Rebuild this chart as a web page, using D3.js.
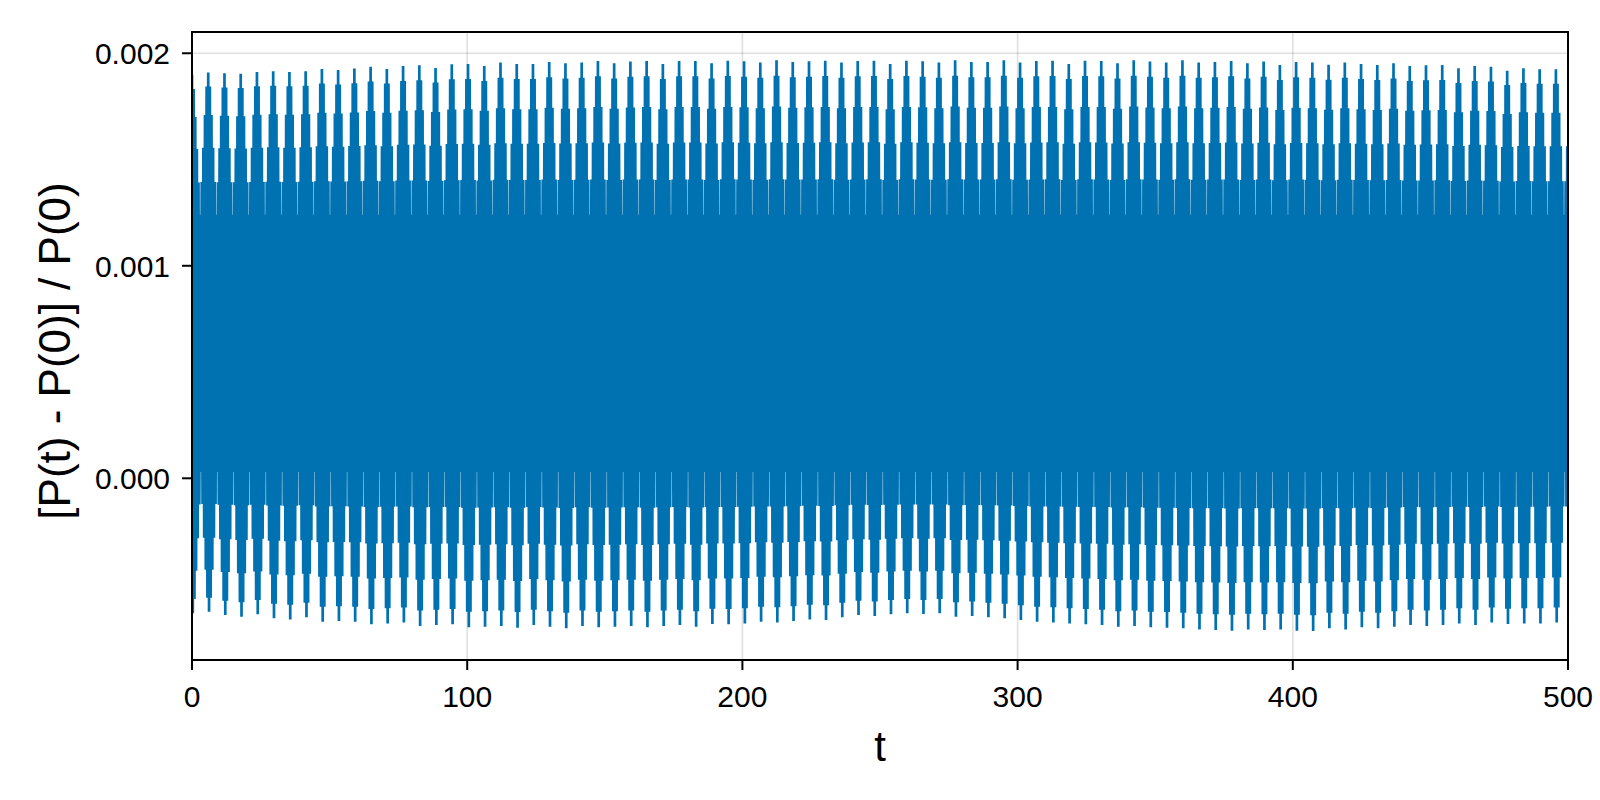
<!DOCTYPE html>
<html>
<head>
<meta charset="utf-8">
<script src="https://cdn.jsdelivr.net/npm/d3@7"></script>
<style>
  html, body { margin: 0; padding: 0; background: #ffffff; }
  svg { display: block; font-family: "Liberation Sans", Arial, Helvetica, sans-serif; }
</style>
</head>
<body>
<svg id="chart" width="1600" height="800"></svg>
<script>
// ---- data ----
// times (t) of the slow-modulation maxima
const peakTimes = [0, 5.9, 11.8, 17.7, 23.6, 29.5, 35.4, 41.3, 47.2, 53.1,
  59.0, 64.9, 70.8, 76.7, 82.6, 88.5, 94.4, 100.3, 106.2, 112.1,
  118.0, 123.9, 129.8, 135.7, 141.6, 147.5, 153.4, 159.3, 165.2, 171.1,
  177.0, 182.9, 188.8, 194.7, 200.6, 206.5, 212.4, 218.3, 224.2, 230.1,
  236.0, 241.9, 247.8, 253.7, 259.6, 265.5, 271.4, 277.3, 283.2, 289.1,
  295.0, 300.9, 306.8, 312.7, 318.6, 324.5, 330.4, 336.3, 342.2, 348.1,
  354.0, 359.9, 365.8, 371.7, 377.6, 383.5, 389.4, 395.3, 401.2, 407.1,
  413.0, 418.9, 424.8, 430.7, 436.6, 442.5, 448.4, 454.3, 460.2, 466.1,
  472.0, 477.9, 483.8, 489.7, 495.6];

// highest value reached in each slow cycle
const upperPeaks = [0.001898, 0.001910, 0.001906, 0.001903, 0.001912, 0.001915, 0.001912, 0.001915, 0.001926, 0.001921,
  0.001928, 0.001937, 0.001926, 0.001940, 0.001943, 0.001931, 0.001948, 0.001950, 0.001940, 0.001956,
  0.001950, 0.001950, 0.001959, 0.001953, 0.001956, 0.001964, 0.001953, 0.001961, 0.001964, 0.001950,
  0.001964, 0.001964, 0.001953, 0.001965, 0.001962, 0.001956, 0.001967, 0.001959, 0.001962, 0.001965,
  0.001956, 0.001964, 0.001965, 0.001950, 0.001965, 0.001962, 0.001956, 0.001967, 0.001959, 0.001959,
  0.001967, 0.001956, 0.001964, 0.001965, 0.001950, 0.001965, 0.001964, 0.001953, 0.001967, 0.001961,
  0.001956, 0.001967, 0.001956, 0.001959, 0.001964, 0.001953, 0.001961, 0.001945, 0.001959, 0.001956,
  0.001946, 0.001956, 0.001950, 0.001945, 0.001953, 0.001940, 0.001943, 0.001945, 0.001929, 0.001940,
  0.001937, 0.001918, 0.001929, 0.001925, 0.001925];

// lowest value reached in each slow cycle
const lowerPeaks = [-0.000635, -0.000628, -0.000643, -0.000651, -0.000640, -0.000659, -0.000664, -0.000654, -0.000675, -0.000672,
  -0.000675, -0.000687, -0.000683, -0.000679, -0.000695, -0.000690, -0.000687, -0.000701, -0.000698, -0.000695,
  -0.000703, -0.000690, -0.000698, -0.000706, -0.000695, -0.000701, -0.000698, -0.000695, -0.000701, -0.000695,
  -0.000690, -0.000698, -0.000686, -0.000687, -0.000683, -0.000675, -0.000678, -0.000672, -0.000664, -0.000667,
  -0.000654, -0.000643, -0.000648, -0.000640, -0.000635, -0.000639, -0.000635, -0.000651, -0.000648, -0.000654,
  -0.000659, -0.000667, -0.000675, -0.000678, -0.000683, -0.000687, -0.000690, -0.000698, -0.000695, -0.000701,
  -0.000703, -0.000706, -0.000711, -0.000714, -0.000717, -0.000711, -0.000714, -0.000711, -0.000717, -0.000719,
  -0.000706, -0.000711, -0.000701, -0.000706, -0.000698, -0.000690, -0.000695, -0.000690, -0.000683, -0.000690,
  -0.000679, -0.000686, -0.000683, -0.000683, -0.000679];

// levels of the fast swing at the slow-modulation minima (thin white spikes)
const upperTrough = 0.00124;
const lowerTrough = 0.00003;

// fraction of the swing reached by each fast oscillation inside one slow cycle
const stepShape = [1.00, 0.90, 0.70, 0.47, 0.23, 0.00, 0.23, 0.47, 0.70, 0.90];

const tEnd = 500;
const xTicks = [0, 100, 200, 300, 400, 500];
const xTickLabels = ["0", "100", "200", "300", "400", "500"];
const yTicks = [0.000, 0.001, 0.002];
const yTickLabels = ["0.000", "0.001", "0.002"];
const xLabel = "t";
const yLabel = "[P(t) - P(0)] / P(0)";

// ---- build the line's points from the read values ----
const series = [];
const n = peakTimes.length;
for (let k = 0; k < n; k++) {
  const t0 = peakTimes[k];
  const t1 = k + 1 < n ? peakTimes[k + 1] : t0 + (t0 - peakTimes[k - 1]);
  const dt = (t1 - t0) / stepShape.length;
  stepShape.forEach((f, j) => {
    const kk = (j >= stepShape.length / 2 && k + 1 < n) ? k + 1 : k;
    const hi = upperTrough + (upperPeaks[kk] - upperTrough) * f;
    const lo = lowerTrough + (lowerPeaks[kk] - lowerTrough) * f;
    const ta = t0 + j * dt, tb = ta + dt / 2;
    if (ta <= tEnd) series.push({ t: ta, v: hi });
    if (tb <= tEnd) series.push({ t: tb, v: lo });
  });
}

// ---- drawing ----
const W = 1600, H = 800;
const plot = { left: 192, right: 1568, top: 32, bottom: 660 };
const svg = d3.select("#chart");
svg.append("rect").attr("width", W).attr("height", H).attr("fill", "#ffffff");

const x = d3.scaleLinear().domain([0, 500]).range([plot.left, plot.right]);
const y = d3.scaleLinear().domain([-0.000855, 0.0021]).range([plot.bottom, plot.top]);

svg.append("defs").append("clipPath").attr("id", "clip")
  .append("rect")
  .attr("x", plot.left).attr("y", plot.top)
  .attr("width", plot.right - plot.left).attr("height", plot.bottom - plot.top);

// grid
const grid = svg.append("g").attr("stroke", "#000").attr("stroke-opacity", 0.12).attr("stroke-width", 1.6);
grid.selectAll("line.gx").data(xTicks).join("line")
  .attr("x1", d => x(d)).attr("x2", d => x(d))
  .attr("y1", plot.top).attr("y2", plot.bottom);
grid.selectAll("line.gy").data(yTicks).join("line")
  .attr("x1", plot.left).attr("x2", plot.right)
  .attr("y1", d => y(d)).attr("y2", d => y(d));

// data line
const line = d3.line().x(d => x(d.t)).y(d => y(d.v));
svg.append("g").attr("clip-path", "url(#clip)")
  .append("path")
  .datum(series)
  .attr("d", line)
  .attr("fill", "none")
  .attr("stroke", "#0072B2")
  .attr("stroke-width", 2.7)
  .attr("stroke-linejoin", "bevel");

// spines
svg.append("rect")
  .attr("x", plot.left).attr("y", plot.top)
  .attr("width", plot.right - plot.left).attr("height", plot.bottom - plot.top)
  .attr("fill", "none").attr("stroke", "#000").attr("stroke-width", 2);

// ticks
const tickLen = 10;
const ticks = svg.append("g").attr("stroke", "#000").attr("stroke-width", 2);
ticks.selectAll("line.tx").data(xTicks).join("line")
  .attr("x1", d => x(d)).attr("x2", d => x(d))
  .attr("y1", plot.bottom).attr("y2", plot.bottom + tickLen);
ticks.selectAll("line.ty").data(yTicks).join("line")
  .attr("x1", plot.left - tickLen).attr("x2", plot.left)
  .attr("y1", d => y(d)).attr("y2", d => y(d));

// tick labels
svg.append("g").selectAll("text").data(xTicks).join("text")
  .attr("x", d => x(d)).attr("y", 707)
  .attr("text-anchor", "middle")
  .attr("font-size", 30).attr("fill", "#000")
  .text((d, i) => xTickLabels[i]);
svg.append("g").selectAll("text").data(yTicks).join("text")
  .attr("x", 170).attr("y", d => y(d))
  .attr("dy", "0.36em")
  .attr("text-anchor", "end")
  .attr("font-size", 30).attr("fill", "#000")
  .text((d, i) => yTickLabels[i]);

// axis labels
svg.append("text")
  .attr("x", (plot.left + plot.right) / 2).attr("y", 761)
  .attr("text-anchor", "middle")
  .attr("font-size", 42).attr("fill", "#000")
  .text(xLabel);
svg.append("text")
  .attr("transform", "translate(70, 351) rotate(-90)")
  .attr("text-anchor", "middle")
  .attr("font-size", 44).attr("fill", "#000")
  .text(yLabel);
</script>
</body>
</html>
